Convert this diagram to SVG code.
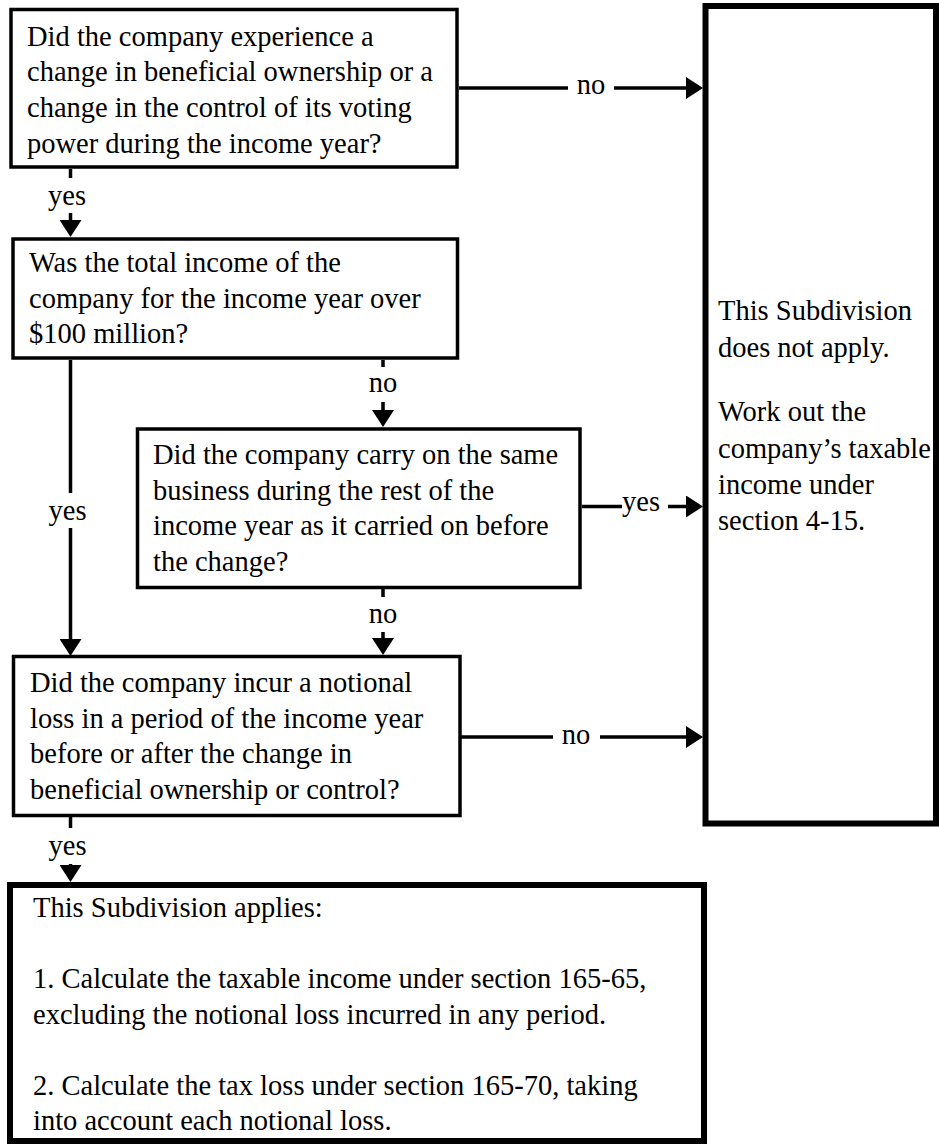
<svg xmlns="http://www.w3.org/2000/svg" width="939" height="1144" viewBox="0 0 939 1144">
<style>
  .box { fill: #ffffff; stroke: #000000; stroke-width: 3.5; }
  .thick { fill: #ffffff; stroke: #000000; stroke-width: 6; }
  .t { font-family: "Liberation Serif", "Times New Roman", serif; font-size: 28.5px; fill: #000000; }
  .lbl { font-family: "Liberation Serif", "Times New Roman", serif; font-size: 28.5px; fill: #000000; text-anchor: middle; }
  .conn { fill: none; stroke: #000000; stroke-width: 3.5; marker-end: url(#arrow); }
</style>
<defs>
  <marker id="arrow" markerUnits="userSpaceOnUse" markerWidth="17" markerHeight="22" refX="0" refY="11" orient="auto">
    <path d="M0,0 L17,11 L0,22 z" fill="#000000"/>
  </marker>
</defs>
<rect width="939" height="1144" fill="#ffffff"/>

<g id="connectors">
  <path class="conn" d="M459,88 H568 M614,88 H686"/>
  <path class="conn" d="M70.5,169 V178 M70.5,213 V220"/>
  <path class="conn" d="M70.5,360 V493 M70.5,528 V639"/>
  <path class="conn" d="M383,360 V367 M383,402 V410"/>
  <path class="conn" d="M383,589 V597 M383,632 V638"/>
  <path class="conn" d="M582,506.5 H622 M668,506.5 H686"/>
  <path class="conn" d="M461,737 H553 M600,737 H686"/>
  <path class="conn" d="M70.5,817 V828 M70.5,864 V865"/>
  <text class="lbl" x="591" y="94">no</text>
  <text class="lbl" x="67" y="205">yes</text>
  <text class="lbl" x="67.5" y="520">yes</text>
  <text class="lbl" x="383" y="392">no</text>
  <text class="lbl" x="383" y="623">no</text>
  <text class="lbl" x="641" y="511">yes</text>
  <text class="lbl" x="576" y="744">no</text>
  <text class="lbl" x="67.5" y="855">yes</text>
</g>

<g id="q1">
  <rect class="box" x="11" y="9.5" width="446" height="157.5"/>
  <text class="t" x="27" y="45.5">Did the company experience a</text>
  <text class="t" x="27" y="81.2">change in beneficial ownership or a</text>
  <text class="t" x="27" y="117">change in the control of its voting</text>
  <text class="t" x="27" y="152.7">power during the income year?</text>
</g>

<g id="q2">
  <rect class="box" x="13" y="239" width="444.5" height="119"/>
  <text class="t" x="29" y="272">Was the total income of the</text>
  <text class="t" x="29" y="307.5">company for the income year over</text>
  <text class="t" x="29" y="343">$100 million?</text>
</g>

<g id="q3">
  <rect class="box" x="137.5" y="429" width="442.5" height="158.5"/>
  <text class="t" x="153" y="464">Did the company carry on the same</text>
  <text class="t" x="153" y="499.5">business during the rest of the</text>
  <text class="t" x="153" y="535">income year as it carried on before</text>
  <text class="t" x="153" y="570.5">the change?</text>
</g>

<g id="q4">
  <rect class="box" x="13.5" y="656.5" width="446.5" height="159"/>
  <text class="t" x="30" y="692">Did the company incur a notional</text>
  <text class="t" x="30" y="727.5">loss in a period of the income year</text>
  <text class="t" x="30" y="763">before or after the change in</text>
  <text class="t" x="30" y="798.5">beneficial ownership or control?</text>
</g>

<g id="not-apply">
  <rect class="thick" x="705.5" y="6" width="230.5" height="817.5"/>
  <text class="t" x="718" y="320">This Subdivision</text>
  <text class="t" x="718" y="357">does not apply.</text>
  <text class="t" x="718" y="421">Work out the</text>
  <text class="t" x="718" y="458">company’s taxable</text>
  <text class="t" x="718" y="494">income under</text>
  <text class="t" x="718" y="530">section 4-15.</text>
</g>

<g id="applies">
  <rect class="thick" x="10" y="885" width="694" height="256"/>
  <text class="t" x="33" y="917">This Subdivision applies:</text>
  <text class="t" x="33" y="988">1. Calculate the taxable income under section 165-65,</text>
  <text class="t" x="33" y="1023.5">excluding the notional loss incurred in any period.</text>
  <text class="t" x="33" y="1094.5">2. Calculate the tax loss under section 165-70, taking</text>
  <text class="t" x="33" y="1130">into account each notional loss.</text>
</g>
</svg>
